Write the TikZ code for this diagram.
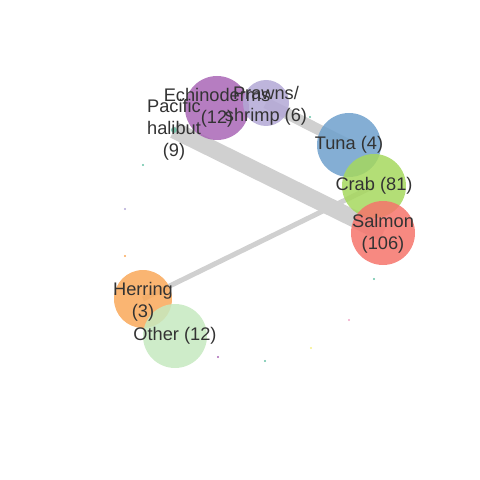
\documentclass[tikz,border=0pt]{standalone}
\usepackage{fontspec}
\setmainfont{Liberation Sans}
\definecolor{labelgray}{HTML}{333333}
\definecolor{linkgray}{HTML}{D0D0D0}
\definecolor{cEch}{HTML}{A966B6}
\definecolor{cPra}{HTML}{B3A8D6}
\definecolor{cTun}{HTML}{6EA0CC}
\definecolor{cCra}{HTML}{A6D85E}
\definecolor{cSal}{HTML}{F6746B}
\definecolor{cHer}{HTML}{F9A859}
\definecolor{cOth}{HTML}{C6E9BF}
\definecolor{cTeal}{HTML}{66C2A5}
\definecolor{cPink}{HTML}{F2A7C8}
\definecolor{cYel}{HTML}{F5F08A}
\pgfdeclarelayer{background}
\pgfsetlayers{background,main}
\begin{document}
\begin{tikzpicture}[x=1bp,y=-1bp,
  bubble/.style={circle, inner sep=0pt, fill opacity=0.85, draw=none},
  lbl/.style={text=labelgray, align=center, font=\fontsize{18.3}{22}\selectfont, inner sep=0pt},
  link/.style={draw=linkgray, line cap=butt},
  speck/.style={circle, inner sep=0pt, minimum size=2.4bp, draw=none}]
\useasboundingbox (0,0) rectangle (480,480);
% bubbles
\node[bubble, fill=cEch, minimum size=64bp] (ech) at (217,108) {};
\node[bubble, fill=cPra, minimum size=46bp] (pra) at (266,103) {};
\node[bubble, fill=cTun, minimum size=64bp] (tun) at (349,145) {};
\node[bubble, fill=cCra, minimum size=64bp] (cra) at (374,186) {};
\node[bubble, fill=cSal, minimum size=64bp] (sal) at (383,233) {};
\node[bubble, fill=cHer, minimum size=58bp] (her) at (143,299) {};
\node[bubble, fill=cOth, minimum size=64bp] (oth) at (175,336) {};
\node[bubble, fill=cTeal, minimum size=6bp] (hal) at (174,130) {};
% links
\begin{pgfonlayer}{background}
\draw[link, line width=17bp] (hal.center) -- (sal.center);
\draw[link, line width=11bp] (pra.center) -- (tun.center);
\draw[link, line width=5bp] (her.center) -- (cra.center);
\end{pgfonlayer}
% specks
\node[speck, fill=cTeal] (s1) at (143,165) {};
\node[speck, fill=cPra] (s2) at (125,209) {};
\node[speck, fill=cHer] (s3) at (125,256) {};
\node[speck, fill=cTeal] (s4) at (374,279) {};
\node[speck, fill=cPink] (s5) at (349,320) {};
\node[speck, fill=cYel] (s6) at (311,348) {};
\node[speck, fill=cEch] (s7) at (218,357) {};
\node[speck, fill=cTeal] (s8) at (265,361) {};
\node[speck, fill=cTeal] (s9) at (310,117) {};
% labels
\node[lbl] (lech) at (217,108) {Echinoderms\\(12)};
\node[lbl] (lpra) at (266,106) {Prawns/\\shrimp (6)};
\node[lbl] (lhal) at (174,130) {Pacific\\halibut\\(9)};
\node[lbl] (ltun) at (349,145) {Tuna (4)};
\node[lbl] (lcra) at (374,186) {Crab (81)};
\node[lbl] (lsal) at (383,234) {Salmon\\(106)};
\node[lbl] (lher) at (143,302) {Herring\\(3)};
\node[lbl] (loth) at (175,336) {Other (12)};
\end{tikzpicture}
\end{document}
